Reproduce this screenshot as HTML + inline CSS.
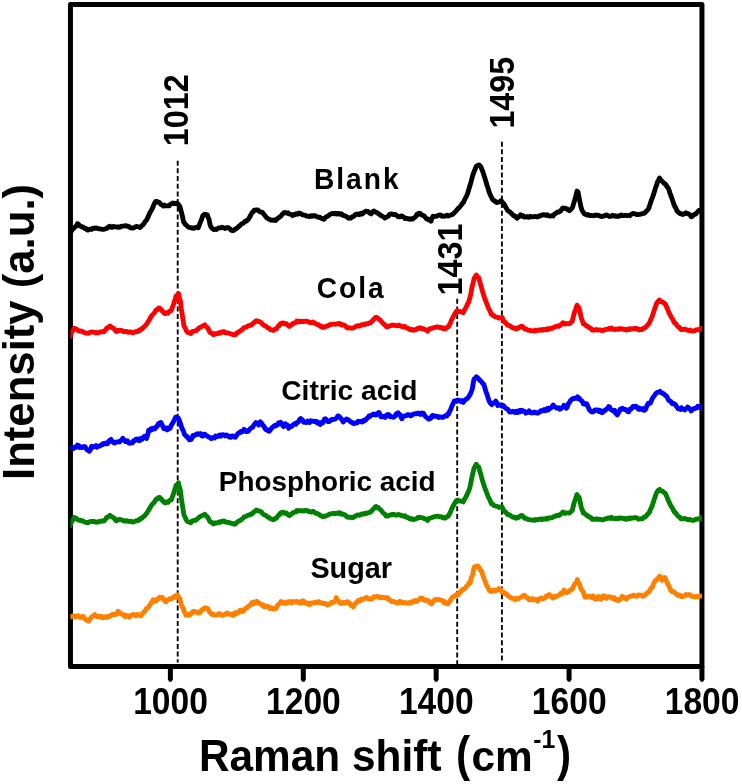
<!DOCTYPE html>
<html lang="en"><head><meta charset="utf-8"><title>Raman spectra</title>
<style>
html,body{margin:0;padding:0;background:#fff;}
body{width:742px;height:784px;overflow:hidden;}
svg{display:block;will-change:transform;}
text{font-family:"Liberation Sans",sans-serif;font-weight:bold;fill:#000;}
.c{fill:none;stroke-width:4.85;stroke-linejoin:round;stroke-linecap:butt;}
.d{fill:none;stroke:#000;stroke-width:1.85;stroke-dasharray:5 2.67;}
</style></head><body>
<svg width="742" height="784" viewBox="0 0 742 784">
<rect x="0" y="0" width="742" height="784" fill="#fff"/>

<rect x="70.45" y="4.4" width="631.5" height="662.0" fill="none" stroke="#000" stroke-width="5" stroke-linejoin="round"/>
<line class="d" x1="177.7" y1="160.7" x2="177.7" y2="662.4"/>
<line class="d" style="stroke-dasharray:5 2.69" x1="457.2" y1="298.7" x2="457.2" y2="664"/>
<line class="d" x1="501.9" y1="141.7" x2="501.9" y2="661"/>
<clipPath id="cp"><rect x="70.45" y="0" width="631.5" height="784"/></clipPath><g clip-path="url(#cp)">
<polyline class="c" stroke="#000000" points="69.5,232.6 70.53,232.25 71.57,231.02 72.6,229.33 73.58,228.51 74.56,227.38 75.54,226.53 76.52,225.6 77.5,223.75 78.58,224.32 79.66,225.85 80.74,226.05 81.82,227.05 82.9,226.85 83.92,227.81 84.93,228.58 85.95,228.5 86.97,229.76 87.98,230.17 89.0,229.68 89.9,229.25 90.8,229.4 91.7,229.41 92.6,228.37 93.7,228.19 94.8,228.41 95.9,227.98 97.0,228.19 98.06,228.65 99.12,228.94 100.18,228.87 101.24,229.08 102.3,229.29 103.4,229.42 104.5,229.1 105.6,228.67 106.67,228.64 107.73,227.4 108.8,226.56 109.87,226.25 110.93,227.34 112.0,227.4 113.1,226.45 114.2,226.55 115.3,226.84 116.38,226.93 117.45,227.28 118.52,226.81 119.6,227.36 120.68,226.85 121.76,226.1 122.84,226.08 123.92,226.06 125.0,225.68 126.08,225.73 127.15,226.25 128.23,226.06 129.3,226.72 130.37,227.83 131.43,227.91 132.5,228.14 133.6,227.85 134.7,227.32 135.8,226.59 136.85,226.46 137.9,226.73 138.95,227.01 140.0,227.51 141.0,226.42 142.0,225.48 143.0,224.79 144.0,223.48 145.03,221.67 146.05,220.57 147.07,219.06 148.1,216.8 149.1,214.56 150.1,212.29 151.1,210.63 152.1,209.13 153.07,206.73 154.03,204.31 155.0,202.5 155.8,201.41 156.6,201.32 157.8,202.2 159.0,202.19 160.2,203.51 161.4,204.75 162.4,205.3 163.4,206.0 164.35,204.96 165.3,205.81 166.25,205.85 167.2,205.92 168.15,205.76 169.1,205.84 170.1,204.62 171.1,203.77 172.07,203.49 173.03,202.95 174.0,203.71 175.0,203.53 176.0,203.27 177.0,203.76 178.0,203.88 179.0,205.29 180.0,206.83 181.0,210.69 182.0,214.44 182.85,218.42 183.7,222.25 184.5,223.03 185.3,224.5 186.37,225.11 187.43,226.23 188.5,227.2 189.5,227.43 190.5,227.73 191.5,228.05 192.5,227.73 193.53,228.33 194.55,228.09 195.57,227.39 196.6,227.27 197.45,227.12 198.3,227.78 199.3,224.87 200.3,222.37 201.45,219.69 202.6,216.13 203.5,215.03 204.4,214.33 205.37,214.83 206.33,214.53 207.3,214.75 208.15,217.38 209.0,219.25 210.2,225.3 211.0,226.92 211.8,227.88 212.7,228.81 213.6,229.38 214.5,229.66 215.57,229.07 216.63,229.44 217.7,228.51 218.77,227.81 219.83,227.88 220.9,227.75 222.0,227.24 223.1,227.6 224.2,228.11 225.27,228.47 226.35,227.58 227.43,227.9 228.5,227.6 229.25,228.35 230.0,228.89 231.07,230.22 232.13,230.53 233.2,230.72 234.3,229.66 235.4,229.4 236.5,228.38 237.57,227.68 238.65,226.5 239.73,225.94 240.8,224.41 241.87,223.71 242.93,223.48 244.0,222.41 245.1,221.29 246.2,221.39 247.3,220.29 248.37,219.35 249.43,217.5 250.5,215.51 251.43,213.89 252.37,212.19 253.3,211.72 254.17,210.19 255.03,210.45 255.9,210.01 256.97,210.01 258.03,210.01 259.1,211.2 260.17,211.82 261.23,212.02 262.3,212.31 263.4,213.63 264.5,215.06 265.6,216.38 266.67,217.82 267.73,218.49 268.8,219.16 269.87,219.33 270.93,220.22 272.0,220.08 273.1,220.23 274.2,219.97 275.3,220.51 276.37,219.97 277.43,218.44 278.5,218.07 279.6,216.91 280.7,216.34 281.8,214.81 282.87,213.59 283.93,212.72 285.0,212.49 286.07,212.9 287.13,213.24 288.2,212.83 289.27,213.95 290.35,214.26 291.43,214.56 292.5,215.63 293.57,214.56 294.65,214.85 295.73,213.89 296.8,213.74 297.9,214.19 299.0,213.05 300.1,213.29 301.17,213.81 302.23,214.78 303.3,214.95 304.38,215.15 305.45,215.32 306.53,216.18 307.6,216.11 308.68,216.55 309.75,216.53 310.82,215.75 311.9,216.26 313.0,215.76 314.1,215.69 315.2,215.73 316.3,216.6 317.38,216.89 318.45,217.31 319.53,217.15 320.6,217.83 321.67,218.51 322.73,218.57 323.8,219.28 324.87,218.06 325.93,217.07 327.0,216.44 328.1,216.2 329.2,214.9 330.3,214.37 331.37,213.69 332.43,213.32 333.5,213.72 334.57,213.93 335.63,213.2 336.7,214.09 337.8,213.45 338.9,213.48 340.0,214.32 341.07,213.79 342.13,214.41 343.2,215.64 344.27,215.68 345.33,216.01 346.4,216.73 347.5,217.25 348.6,218.24 349.7,217.96 350.77,218.12 351.83,216.8 352.9,216.72 353.97,216.08 355.03,214.84 356.1,214.23 357.2,214.47 358.3,214.06 359.4,214.67 360.47,213.63 361.53,213.23 362.6,213.93 363.67,212.48 364.73,212.11 365.8,211.24 366.9,211.43 368.0,211.49 369.1,212.75 370.15,213.37 371.2,213.92 372.13,212.11 373.07,211.35 374.0,210.93 374.87,211.83 375.73,211.85 376.6,212.51 377.7,213.34 378.8,213.77 379.9,214.95 380.97,215.42 382.03,216.09 383.1,216.64 383.97,217.06 384.83,218.03 385.7,217.64 386.63,217.17 387.57,216.46 388.5,216.08 389.25,214.83 390.0,214.09 391.07,214.03 392.15,213.95 393.23,214.46 394.3,214.43 395.38,214.48 396.45,215.22 397.53,216.15 398.6,216.89 399.7,216.77 400.8,216.25 401.9,215.87 402.97,216.85 404.03,217.4 405.1,218.66 406.18,218.23 407.25,218.33 408.32,219.05 409.4,218.77 410.47,219.22 411.55,218.79 412.62,219.1 413.7,218.22 414.8,217.3 415.9,216.32 417.0,214.23 418.07,214.63 419.13,213.21 420.2,213.3 421.27,214.47 422.33,215.22 423.4,215.6 424.5,216.3 425.6,217.68 426.7,219.06 427.77,218.9 428.85,220.08 429.93,219.78 431.0,221.15 432.05,218.03 433.1,216.2 434.2,216.64 435.3,216.33 436.4,216.25 437.47,215.81 438.53,215.34 439.6,214.91 440.7,215.2 441.8,216.33 442.88,215.87 443.95,216.34 445.03,216.13 446.1,215.53 447.18,215.15 448.25,215.96 449.32,215.61 450.4,215.15 451.47,214.65 452.53,214.49 453.6,213.55 454.67,212.42 455.73,211.29 456.8,210.13 457.9,208.58 459.0,207.96 460.1,206.41 461.17,205.34 462.23,203.55 463.3,202.64 464.37,200.27 465.43,198.12 466.5,196.14 467.6,193.51 468.7,189.79 469.8,185.99 470.9,182.42 471.83,178.77 472.77,175.29 473.7,172.63 474.57,170.47 475.43,168.5 476.3,166.13 477.35,165.66 478.4,164.95 479.5,165.16 480.6,166.19 481.65,168.88 482.7,171.3 483.8,174.74 484.9,178.13 486.0,181.75 487.05,185.51 488.1,188.55 489.2,192.21 490.3,194.8 491.35,196.78 492.4,199.21 493.5,200.48 494.6,200.56 495.7,202.09 496.75,202.52 497.8,202.19 498.9,202.05 500.0,201.65 501.1,200.56 502.15,201.97 503.2,203.06 504.3,204.55 505.4,206.49 506.45,208.44 507.5,210.41 508.6,211.08 509.7,211.74 510.8,212.93 511.87,213.76 512.93,215.01 514.0,216.08 515.07,216.01 516.13,217.4 517.2,218.14 518.3,216.87 519.4,216.18 520.5,214.93 521.58,215.93 522.65,215.54 523.72,216.95 524.8,217.14 525.88,216.94 526.95,216.54 528.02,217.25 529.1,217.31 530.17,216.3 531.25,216.9 532.33,216.88 533.4,216.58 534.48,216.62 535.55,216.34 536.62,216.87 537.7,216.92 538.78,216.0 539.85,216.18 540.92,215.5 542.0,214.93 543.08,214.96 544.15,214.59 545.22,215.3 546.3,215.21 547.22,214.71 548.15,215.66 549.08,215.87 550.0,215.98 551.07,215.98 552.13,215.72 553.2,216.07 554.3,214.32 555.4,213.59 556.5,212.93 557.57,211.97 558.63,212.14 559.7,211.62 560.77,210.77 561.83,208.98 562.9,207.96 564.0,208.41 565.1,208.28 566.2,208.79 567.27,208.99 568.33,210.04 569.4,210.72 570.47,209.64 571.53,208.72 572.6,207.15 573.7,203.34 574.8,199.99 575.9,195.6 577.0,191.08 578.0,191.87 578.9,196.66 579.8,201.37 580.85,206.44 581.9,209.98 582.77,211.74 583.63,212.58 584.5,214.11 585.58,214.31 586.65,214.97 587.72,214.48 588.8,215.3 589.88,215.5 590.95,215.34 592.02,215.68 593.1,215.64 594.17,215.71 595.25,215.0 596.33,215.36 597.4,215.24 598.5,215.36 599.6,215.74 600.7,216.44 601.8,216.6 602.88,216.12 603.95,216.01 605.02,215.44 606.1,214.97 607.17,215.12 608.23,215.79 609.3,216.51 610.37,216.45 611.43,216.03 612.5,215.31 613.58,216.06 614.65,215.71 615.72,216.34 616.8,216.1 617.9,216.24 619.0,216.29 620.1,215.31 621.2,214.94 622.28,215.56 623.35,215.58 624.42,215.52 625.5,215.25 626.58,215.55 627.65,215.47 628.72,215.32 629.8,215.7 630.87,214.63 631.93,214.02 633.0,213.44 634.1,213.71 635.2,213.86 636.3,214.57 637.38,214.45 638.45,214.46 639.52,214.44 640.6,214.2 641.67,213.99 642.75,213.55 643.83,213.43 644.9,212.81 645.88,211.81 646.85,210.64 647.82,209.62 648.8,208.32 650.05,204.28 651.3,200.44 652.4,197.7 653.5,194.64 654.6,191.05 655.53,187.72 656.47,185.57 657.4,182.28 658.45,180.36 659.5,178.0 660.37,179.44 661.23,180.64 662.1,181.21 663.2,182.21 664.3,183.61 665.4,183.97 666.33,185.57 667.27,187.12 668.2,187.91 669.07,190.13 669.93,192.97 670.8,195.42 672.05,198.73 673.3,202.48 674.23,205.39 675.17,206.88 676.1,208.83 677.03,210.9 677.97,211.79 678.9,212.86 679.83,213.34 680.75,213.91 681.67,213.61 682.6,214.47 683.67,214.1 684.73,213.78 685.8,212.75 686.9,213.55 688.0,213.57 689.1,214.37 690.15,214.99 691.2,216.72 692.3,216.24 693.4,215.08 694.5,214.39 695.57,214.14 696.63,212.79 697.7,211.88 698.8,210.43 699.9,210.84 700.93,210.07 701.97,209.26 703.0,209.0"/>
<polyline class="c" stroke="#ff0000" points="69.3,338.0 70.2,336.19 71.1,333.41 72.17,331.44 73.23,330.27 74.3,328.16 75.38,328.79 76.45,329.09 77.52,330.12 78.6,330.82 79.67,331.06 80.75,330.87 81.83,331.45 82.9,331.68 83.98,332.35 85.06,332.94 86.14,333.19 87.22,333.05 88.3,333.24 89.38,332.77 90.45,332.24 91.52,331.96 92.6,332.16 93.68,332.12 94.76,332.31 95.84,332.99 96.92,332.71 98.0,332.87 99.08,332.31 100.16,331.88 101.24,332.01 102.32,331.6 103.4,331.81 104.5,331.25 105.6,329.79 106.7,328.15 107.77,328.0 108.83,326.96 109.9,325.96 110.97,326.88 112.03,327.46 113.1,328.22 114.2,328.81 115.3,330.56 116.4,331.61 117.47,330.36 118.53,330.65 119.6,330.24 120.67,330.28 121.75,330.68 122.83,330.96 123.9,331.77 124.98,331.4 126.06,331.86 127.14,331.44 128.22,332.12 129.3,332.24 130.38,331.91 131.45,332.17 132.53,332.71 133.6,332.65 134.68,332.11 135.75,331.54 136.82,331.38 137.9,331.52 138.97,330.23 140.05,330.35 141.12,328.94 142.2,328.95 143.27,327.22 144.35,326.85 145.43,325.5 146.5,324.2 147.6,322.44 148.7,320.82 149.8,318.97 150.9,316.89 151.97,315.33 153.05,314.21 154.12,313.23 155.2,311.44 156.1,309.91 157.0,309.8 157.9,308.77 158.8,308.05 159.73,308.13 160.67,309.6 161.6,309.71 162.47,311.43 163.33,312.08 164.2,313.1 165.17,313.66 166.15,312.67 167.12,312.97 168.1,313.19 169.17,311.65 170.23,310.75 171.3,310.62 172.27,307.58 173.23,305.37 174.2,302.09 175.15,299.25 176.1,295.84 177.3,295.29 178.5,293.54 179.45,298.3 180.4,301.08 181.25,308.3 182.1,313.97 183.0,319.63 183.9,325.64 185.15,327.92 186.4,330.95 187.5,332.24 188.6,332.64 189.7,333.0 190.77,333.47 191.83,331.98 192.9,331.29 193.97,331.18 195.05,331.03 196.12,330.72 197.2,329.57 198.27,328.92 199.35,327.68 200.43,327.24 201.5,326.69 202.6,326.06 203.7,325.64 204.8,324.88 205.73,326.1 206.67,327.03 207.6,327.87 208.47,329.23 209.33,331.34 210.2,332.6 211.27,332.86 212.33,333.74 213.4,334.71 214.47,333.69 215.55,333.99 216.62,333.58 217.7,333.52 218.78,332.77 219.86,333.33 220.94,332.22 222.02,332.26 223.1,331.71 224.18,331.69 225.25,332.71 226.32,332.68 227.4,333.01 228.27,333.12 229.13,333.39 230.0,333.46 231.08,334.13 232.16,334.07 233.24,334.67 234.32,334.7 235.4,334.84 236.47,333.26 237.55,332.74 238.62,331.78 239.7,331.4 240.77,330.59 241.85,329.93 242.93,328.98 244.0,327.63 245.07,327.44 246.15,327.18 247.23,326.23 248.3,325.89 249.38,325.75 250.45,324.87 251.53,325.0 252.6,323.91 253.53,322.96 254.45,322.25 255.38,321.5 256.3,320.69 257.27,321.27 258.25,321.46 259.23,321.54 260.2,322.16 261.27,322.51 262.35,324.1 263.43,324.98 264.5,325.55 265.57,326.03 266.65,326.91 267.73,327.79 268.8,328.01 269.77,328.96 270.75,329.63 271.73,329.8 272.7,330.25 273.62,330.48 274.55,329.45 275.47,329.07 276.4,328.96 277.3,327.55 278.2,326.12 279.1,325.81 280.0,324.06 280.88,323.4 281.75,323.85 282.62,322.94 283.5,322.89 284.5,323.84 285.5,324.02 286.5,323.67 287.43,324.88 288.37,325.57 289.3,326.38 290.37,325.35 291.43,325.03 292.5,323.73 293.57,323.31 294.65,322.76 295.73,322.73 296.8,321.13 297.9,321.83 299.0,321.16 300.1,321.53 301.2,321.28 302.27,321.41 303.35,321.78 304.43,321.43 305.5,321.18 306.57,321.28 307.65,321.34 308.73,322.29 309.8,322.16 310.88,322.68 311.95,322.56 313.03,322.0 314.1,322.88 315.18,323.55 316.25,324.05 317.32,324.35 318.4,324.74 319.47,325.48 320.55,326.48 321.62,326.52 322.7,327.43 323.77,326.95 324.85,327.05 325.93,326.46 327.0,326.18 328.07,325.79 329.15,324.93 330.23,324.58 331.3,324.59 332.4,324.14 333.5,324.12 334.6,324.2 335.7,324.26 336.77,323.89 337.85,324.15 338.93,323.36 340.0,323.64 341.07,324.82 342.15,324.36 343.23,325.13 344.3,325.22 345.38,325.79 346.45,327.24 347.53,327.89 348.6,328.06 349.67,327.69 350.73,328.08 351.8,328.2 352.88,328.16 353.95,327.65 355.03,326.86 356.1,326.43 357.2,325.7 358.3,325.89 359.4,326.07 360.5,325.58 361.57,324.58 362.65,324.77 363.73,324.71 364.8,323.93 365.88,324.36 366.95,323.61 368.03,323.6 369.1,322.99 370.17,322.94 371.23,322.01 372.3,321.08 373.27,319.63 374.25,318.99 375.23,317.56 376.2,317.2 377.12,318.22 378.05,318.15 378.97,319.21 379.9,319.88 380.97,320.86 382.03,322.26 383.1,323.58 384.08,324.3 385.05,325.02 386.02,326.53 387.0,326.81 388.0,326.7 389.0,326.04 390.0,325.59 391.08,325.69 392.16,325.0 393.24,325.43 394.32,325.19 395.4,325.48 396.48,325.92 397.56,325.65 398.64,325.06 399.72,325.66 400.8,326.03 401.88,326.52 402.96,326.57 404.04,327.05 405.12,326.47 406.2,327.79 407.27,328.08 408.35,328.47 409.43,329.32 410.5,329.82 411.57,329.14 412.65,330.1 413.73,330.22 414.8,329.77 415.88,329.82 416.95,329.09 418.03,328.11 419.1,328.23 420.18,327.78 421.25,328.57 422.32,328.65 423.4,328.73 424.47,329.5 425.55,329.81 426.62,329.95 427.7,331.21 428.77,329.53 429.85,328.75 430.93,328.58 432.0,328.27 433.1,327.8 434.2,327.63 435.3,327.06 436.4,326.99 437.47,326.89 438.55,327.09 439.62,327.63 440.7,327.38 441.77,327.61 442.85,328.53 443.93,328.07 445.0,328.88 446.07,328.31 447.13,327.29 448.2,326.99 449.3,324.98 450.4,322.93 451.5,320.0 452.57,317.86 453.63,315.94 454.7,313.86 455.57,312.61 456.43,311.23 457.3,310.76 458.23,311.58 459.17,311.29 460.1,311.84 461.17,311.8 462.23,312.0 463.3,312.61 464.37,310.06 465.43,308.5 466.5,306.38 467.6,303.91 468.7,301.79 469.8,298.33 470.85,293.76 471.9,287.78 473.0,283.31 474.1,278.63 475.2,276.87 476.3,274.98 477.55,277.07 478.8,277.85 479.73,281.68 480.67,284.65 481.6,288.03 482.7,291.99 483.8,295.53 484.9,298.94 485.97,301.46 487.03,304.24 488.1,307.35 489.17,309.27 490.23,311.49 491.3,314.4 492.4,314.34 493.5,315.98 494.6,316.37 495.68,316.78 496.75,317.15 497.82,317.31 498.9,318.15 499.97,317.7 501.03,317.87 502.1,317.57 503.2,320.08 504.3,321.96 505.37,322.5 506.43,323.79 507.5,325.17 508.57,325.21 509.65,325.66 510.73,326.51 511.8,327.16 512.88,327.97 513.95,327.91 515.02,328.17 516.1,328.92 517.2,327.94 518.3,328.21 519.4,327.65 520.45,326.54 521.5,326.16 522.6,326.56 523.7,328.08 524.8,329.07 525.88,328.98 526.95,329.56 528.02,330.22 529.1,330.37 530.18,330.46 531.26,330.67 532.34,330.82 533.42,330.7 534.5,331.03 535.58,330.19 536.66,330.47 537.74,330.45 538.82,330.03 539.9,329.98 540.98,329.6 542.06,330.32 543.14,329.52 544.22,329.51 545.3,329.83 546.24,328.98 547.18,329.75 548.12,328.75 549.06,328.56 550.0,328.84 551.07,328.28 552.13,328.33 553.2,327.72 554.3,327.29 555.4,326.63 556.5,326.45 557.57,325.91 558.63,326.37 559.7,325.68 560.77,324.63 561.83,324.08 562.9,322.62 564.0,323.13 565.1,324.14 566.2,323.55 567.27,323.61 568.33,323.67 569.4,323.73 570.33,323.08 571.27,322.06 572.2,321.33 573.3,316.87 574.4,312.51 575.27,310.42 576.13,307.62 577.0,305.16 578.05,307.19 579.1,308.02 580.2,312.76 581.3,318.19 582.35,320.62 583.4,323.91 584.5,323.93 585.6,325.09 586.7,326.18 587.77,326.32 588.83,327.49 589.9,328.02 590.97,328.52 592.03,329.91 593.1,329.98 594.17,329.95 595.25,329.98 596.33,329.52 597.4,329.97 598.5,329.83 599.6,329.95 600.7,330.02 601.8,330.63 602.86,330.5 603.92,330.19 604.98,329.63 606.04,329.44 607.1,329.43 608.2,328.65 609.3,328.47 610.4,329.19 611.5,327.99 612.58,329.13 613.65,329.1 614.72,329.61 615.8,328.94 616.88,329.09 617.95,329.53 619.02,328.56 620.1,328.57 621.18,328.96 622.26,328.88 623.34,328.97 624.42,329.67 625.5,329.15 626.58,330.0 627.66,329.52 628.74,328.74 629.82,329.56 630.9,328.72 631.98,328.88 633.05,328.86 634.12,328.3 635.2,328.6 636.27,328.38 637.33,328.8 638.4,329.86 639.47,329.75 640.53,329.43 641.6,329.6 642.7,329.29 643.8,327.95 644.9,327.82 646.0,326.89 647.07,325.64 648.13,324.4 649.2,323.28 650.13,320.94 651.07,318.95 652.0,316.97 652.87,314.37 653.73,311.76 654.6,308.94 655.47,306.57 656.33,304.17 657.2,302.46 658.35,300.88 659.5,300.07 660.37,301.35 661.23,301.64 662.1,301.68 663.2,302.6 664.3,303.24 665.4,304.12 666.33,306.29 667.27,308.42 668.2,311.03 669.2,313.18 670.2,315.04 671.2,317.07 672.33,318.66 673.47,320.99 674.6,323.04 675.52,323.28 676.45,324.87 677.38,325.94 678.3,326.97 679.37,327.38 680.43,329.06 681.5,329.77 682.6,329.4 683.7,329.45 684.8,329.16 685.88,329.51 686.95,330.02 688.02,330.35 689.1,330.47 690.17,330.05 691.25,330.9 692.33,331.01 693.4,331.07 694.48,330.66 695.55,329.89 696.62,329.92 697.7,329.67 698.77,329.75 699.83,329.15 700.9,328.26 701.95,329.3 703.0,329.0"/>
<polyline class="c" stroke="#0000ff" points="69.5,447.08 70.3,447.79 71.1,447.54 72.17,448.31 73.23,448.65 74.3,447.83 75.37,446.69 76.43,447.31 77.5,445.12 78.6,445.57 79.7,447.59 80.8,447.04 81.87,447.57 82.93,446.65 84.0,446.78 85.1,446.73 86.2,448.64 87.3,450.04 88.35,450.1 89.4,451.28 90.5,449.29 91.6,446.23 92.67,447.42 93.73,446.88 94.8,446.1 95.87,445.56 96.93,447.23 98.0,446.45 99.1,446.2 100.2,445.79 101.3,444.73 102.37,444.81 103.43,443.42 104.5,443.9 105.57,443.02 106.63,443.84 107.7,443.56 108.8,441.06 109.9,440.21 111.0,439.43 112.07,441.86 113.13,441.74 114.2,443.05 115.3,442.1 116.4,442.21 117.47,441.84 118.53,441.64 119.6,441.97 120.67,440.67 121.73,440.01 122.8,438.26 123.73,439.69 124.67,440.48 125.6,441.68 126.53,441.47 127.45,440.88 128.38,442.7 129.3,443.33 130.37,443.21 131.43,442.54 132.5,442.83 133.6,440.76 134.7,440.93 135.8,439.35 136.87,439.04 137.93,438.86 139.0,440.71 140.07,440.48 141.13,438.18 142.2,439.1 143.3,437.57 144.4,436.3 145.45,437.04 146.5,438.44 147.6,435.2 148.7,430.09 149.77,430.63 150.83,428.89 151.9,429.64 153.0,428.36 154.1,428.96 155.2,428.66 156.27,426.51 157.33,426.3 158.4,423.72 159.27,423.02 160.13,423.83 161.0,422.46 161.93,424.46 162.87,426.55 163.8,428.62 164.87,427.98 165.93,428.02 167.0,429.94 168.1,428.13 169.2,428.72 170.3,427.89 171.23,425.26 172.17,423.82 173.1,422.34 173.97,420.82 174.83,418.96 175.7,417.12 176.95,417.24 178.2,417.88 179.3,420.21 180.4,423.26 181.5,427.09 182.6,429.38 183.53,431.3 184.47,434.46 185.4,435.34 186.33,436.46 187.27,436.46 188.2,438.33 189.25,439.76 190.3,439.74 191.17,439.5 192.03,438.1 192.9,435.52 193.97,435.92 195.03,434.87 196.1,434.56 197.2,433.77 198.3,434.35 199.4,434.28 200.27,433.48 201.13,434.19 202.0,436.05 202.93,436.13 203.87,434.2 204.8,434.11 205.87,435.32 206.93,435.71 208.0,436.73 209.07,437.13 210.13,437.74 211.2,438.69 212.3,437.73 213.4,437.52 214.5,437.94 215.57,436.03 216.65,436.69 217.73,436.6 218.8,435.32 219.88,435.05 220.95,436.11 222.03,434.88 223.1,434.67 224.18,435.32 225.25,436.0 226.32,434.95 227.4,435.54 228.27,435.77 229.13,436.97 230.0,436.38 231.08,437.21 232.16,435.84 233.24,436.17 234.32,436.8 235.4,437.27 236.47,435.48 237.55,434.1 238.62,432.97 239.7,432.86 240.77,431.48 241.85,432.01 242.93,431.38 244.0,429.37 245.1,429.99 246.2,431.48 247.3,431.58 248.37,431.21 249.43,429.59 250.5,428.46 251.57,427.62 252.63,427.45 253.7,425.24 254.8,423.89 255.9,422.53 256.77,423.04 257.63,423.52 258.5,425.04 259.43,422.78 260.37,421.74 261.3,422.89 262.23,424.23 263.17,425.91 264.1,426.27 264.97,428.5 265.83,429.65 266.7,429.44 267.95,430.84 269.2,431.37 270.07,430.2 270.95,429.09 271.82,427.8 272.7,427.08 273.62,426.33 274.55,425.49 275.47,426.0 276.4,424.87 277.47,425.1 278.55,422.74 279.62,423.63 280.7,422.39 281.63,424.08 282.57,425.26 283.5,426.5 284.37,425.35 285.23,423.73 286.1,424.69 286.97,424.78 287.83,426.27 288.7,428.23 289.63,427.22 290.57,426.26 291.5,426.58 292.57,425.4 293.65,424.33 294.73,423.63 295.8,424.32 296.87,422.69 297.93,422.43 299.0,420.7 299.85,419.09 300.7,418.47 301.57,420.03 302.43,419.74 303.3,421.98 304.38,422.39 305.45,422.31 306.53,422.5 307.6,421.02 308.68,422.16 309.75,422.53 310.82,420.8 311.9,421.14 313.0,421.09 314.1,421.55 315.2,421.3 316.3,421.35 317.25,422.93 318.2,422.35 319.15,423.43 320.1,424.55 320.97,423.45 321.83,422.24 322.7,422.95 323.57,421.64 324.43,419.04 325.3,418.8 326.23,419.5 327.17,420.56 328.1,421.7 329.17,421.59 330.23,420.77 331.3,419.62 332.4,419.28 333.5,419.56 334.6,419.15 335.67,418.78 336.73,417.87 337.8,415.96 338.9,416.23 340.0,417.29 341.1,418.55 342.15,420.31 343.2,421.97 344.27,420.29 345.33,420.27 346.4,419.05 347.5,419.4 348.6,420.01 349.7,420.99 350.77,422.11 351.85,422.24 352.93,423.49 354.0,423.72 355.07,422.84 356.15,422.97 357.23,422.84 358.3,421.14 359.38,421.6 360.45,421.35 361.53,422.01 362.6,421.87 363.68,420.2 364.75,420.7 365.82,419.93 366.9,418.32 368.0,417.66 369.1,415.91 370.2,416.23 371.27,415.19 372.33,414.91 373.4,413.98 374.33,414.24 375.27,414.87 376.2,415.03 377.07,413.61 377.93,414.08 378.8,412.41 379.87,414.12 380.93,416.82 382.0,416.79 383.1,416.55 384.2,416.23 385.3,417.46 386.37,415.46 387.43,414.55 388.5,415.58 389.25,414.74 390.0,416.79 391.07,416.55 392.15,416.97 393.23,417.3 394.3,416.66 395.27,416.17 396.25,413.72 397.23,414.26 398.2,412.82 399.12,414.48 400.05,414.51 400.97,417.05 401.9,418.67 402.97,416.22 404.05,416.05 405.12,415.83 406.2,415.66 407.27,414.63 408.35,414.66 409.43,414.95 410.5,415.83 411.57,415.68 412.65,414.54 413.73,414.06 414.8,413.69 415.88,413.6 416.95,413.74 418.03,413.07 419.1,413.9 420.17,414.48 421.23,412.99 422.3,413.29 423.4,413.22 424.5,415.38 425.6,416.61 426.67,417.51 427.73,418.27 428.8,419.27 429.87,418.65 430.93,418.23 432.0,415.8 433.1,415.39 434.2,416.4 435.3,416.43 436.37,416.13 437.43,416.49 438.5,417.54 439.6,416.71 440.7,417.1 441.8,417.2 442.87,417.54 443.93,416.56 445.0,415.96 445.93,416.13 446.85,415.91 447.77,413.84 448.7,413.91 449.63,411.16 450.57,409.87 451.5,407.17 452.43,404.87 453.37,403.1 454.3,401.05 455.55,401.21 456.8,400.27 457.9,400.01 459.0,400.55 460.1,400.64 461.17,401.68 462.23,400.55 463.3,402.38 464.37,400.49 465.43,399.86 466.5,398.74 467.43,398.39 468.35,397.29 469.27,395.69 470.2,394.46 471.3,391.69 472.4,388.71 473.25,382.95 474.1,378.77 475.2,378.47 476.3,376.73 477.55,377.56 478.8,378.87 479.73,380.34 480.67,380.75 481.6,381.82 482.7,383.56 483.8,384.28 484.9,387.93 486.0,391.82 487.05,394.37 488.1,398.11 489.03,400.58 489.97,402.83 490.9,403.71 491.77,404.56 492.63,403.09 493.5,402.95 494.6,403.01 495.7,401.17 496.75,402.64 497.8,405.57 498.9,404.62 500.0,404.88 501.1,405.46 502.17,406.22 503.23,405.45 504.3,406.67 505.37,407.74 506.43,408.71 507.5,409.02 508.6,410.5 509.7,411.98 510.8,411.58 511.88,411.99 512.95,411.24 514.02,411.65 515.1,412.53 516.17,411.2 517.25,412.52 518.33,412.34 519.4,410.49 520.47,411.75 521.53,410.18 522.6,410.54 523.67,411.45 524.73,411.46 525.8,413.15 526.9,412.61 528.0,412.41 529.1,410.83 530.17,412.18 531.25,412.97 532.33,412.77 533.4,412.87 534.48,412.03 535.55,412.79 536.62,412.5 537.7,413.24 538.78,412.63 539.85,411.88 540.92,410.59 542.0,410.99 543.08,410.69 544.15,409.51 545.22,410.65 546.3,409.91 547.22,408.65 548.15,410.06 549.08,408.28 550.0,408.46 551.07,407.94 552.13,406.39 553.2,405.01 554.3,406.36 555.4,407.15 556.5,408.02 557.57,407.89 558.63,407.8 559.7,409.23 560.8,408.76 561.9,407.79 562.95,407.13 564.0,405.32 565.1,406.53 566.2,408.17 567.25,407.2 568.3,403.58 569.4,402.71 570.5,400.39 571.6,399.64 572.67,398.67 573.73,398.5 574.8,398.51 575.73,398.22 576.67,398.11 577.6,396.71 578.47,398.76 579.33,398.36 580.2,399.74 581.27,400.47 582.33,401.56 583.4,403.96 584.5,404.22 585.6,403.5 586.7,403.88 587.77,406.13 588.83,408.59 589.9,410.53 590.83,411.33 591.77,411.95 592.7,411.99 593.7,411.56 594.7,410.22 595.7,409.96 596.58,410.31 597.45,409.85 598.33,410.23 599.2,411.56 600.07,410.39 600.93,412.27 601.8,412.78 602.87,412.4 603.93,410.77 605.0,410.61 605.92,409.59 606.85,408.62 607.78,408.23 608.7,406.57 609.63,407.03 610.57,409.39 611.5,409.87 612.57,410.6 613.63,411.35 614.7,410.4 615.57,413.11 616.43,414.06 617.3,414.88 618.23,413.28 619.17,411.49 620.1,409.29 621.17,409.59 622.23,408.24 623.3,408.8 624.37,409.46 625.43,409.42 626.5,410.03 627.6,411.37 628.7,411.78 629.77,409.17 630.83,409.38 631.9,407.95 633.0,406.47 634.1,406.75 635.2,406.17 636.27,406.42 637.33,407.91 638.4,409.26 639.47,408.18 640.53,409.41 641.6,409.19 642.7,408.44 643.8,410.25 644.9,410.1 645.77,408.82 646.63,406.47 647.5,404.58 648.43,403.19 649.37,403.51 650.3,403.16 651.37,401.02 652.43,398.17 653.5,396.81 654.57,395.4 655.63,393.78 656.7,392.79 657.8,392.29 658.9,391.97 660.0,391.32 661.07,392.43 662.13,393.27 663.2,393.37 664.27,394.14 665.33,395.6 666.4,395.91 667.5,397.9 668.6,400.15 669.7,401.1 670.77,401.36 671.83,403.5 672.9,403.84 673.77,403.5 674.63,403.88 675.5,404.56 676.43,406.49 677.37,407.55 678.3,408.91 679.37,408.82 680.43,409.47 681.5,407.69 682.6,409.02 683.7,409.19 684.8,409.92 685.73,408.91 686.67,408.44 687.6,407.04 688.5,407.58 689.4,408.57 690.3,409.51 691.2,410.98 692.3,409.39 693.4,408.58 694.5,408.7 695.57,408.05 696.63,408.07 697.7,406.2 698.77,407.11 699.83,407.29 700.9,406.75 701.95,408.33 703.0,407.1"/>
<polyline class="c" stroke="#008000" points="69.3,527.3 70.2,525.49 71.1,522.71 72.17,520.74 73.23,519.57 74.3,517.46 75.38,518.09 76.45,518.39 77.52,519.42 78.6,520.12 79.67,520.36 80.75,520.17 81.83,520.75 82.9,520.98 83.98,521.65 85.06,522.24 86.14,522.49 87.22,522.35 88.3,522.54 89.38,522.07 90.45,521.54 91.52,521.26 92.6,521.46 93.68,521.42 94.76,521.61 95.84,522.29 96.92,522.01 98.0,522.17 99.08,521.61 100.16,521.18 101.24,521.31 102.32,520.9 103.4,521.11 104.5,520.55 105.6,519.09 106.7,517.45 107.77,517.3 108.83,516.26 109.9,515.26 110.97,516.18 112.03,516.76 113.1,517.52 114.2,518.11 115.3,519.86 116.4,520.91 117.47,519.66 118.53,519.95 119.6,519.54 120.67,519.58 121.75,519.98 122.83,520.26 123.9,521.07 124.98,520.7 126.06,521.16 127.14,520.74 128.22,521.42 129.3,521.54 130.38,521.21 131.45,521.47 132.53,522.01 133.6,521.95 134.68,521.41 135.75,520.84 136.82,520.68 137.9,520.82 138.97,519.53 140.05,519.65 141.12,518.24 142.2,518.25 143.27,516.52 144.35,516.15 145.43,514.8 146.5,513.5 147.6,511.74 148.7,510.12 149.8,508.27 150.9,506.19 151.97,504.63 153.05,503.51 154.12,502.53 155.2,500.74 156.1,499.21 157.0,499.1 157.9,498.07 158.8,497.35 159.73,497.43 160.67,498.9 161.6,499.01 162.47,500.73 163.33,501.38 164.2,502.4 165.17,502.96 166.15,501.97 167.12,502.27 168.1,502.49 169.17,500.95 170.23,500.05 171.3,499.92 172.27,496.88 173.23,494.67 174.2,491.39 175.15,488.55 176.1,485.14 177.3,484.59 178.5,482.84 179.45,487.6 180.4,490.38 181.25,497.6 182.1,503.27 183.0,508.93 183.9,514.94 185.15,517.22 186.4,520.25 187.5,521.54 188.6,521.94 189.7,522.3 190.77,522.77 191.83,521.28 192.9,520.59 193.97,520.48 195.05,520.33 196.12,520.02 197.2,518.87 198.27,518.22 199.35,516.98 200.43,516.54 201.5,515.99 202.6,515.36 203.7,514.94 204.8,514.18 205.73,515.4 206.67,516.33 207.6,517.17 208.47,518.53 209.33,520.64 210.2,521.9 211.27,522.16 212.33,523.04 213.4,524.01 214.47,522.99 215.55,523.29 216.62,522.88 217.7,522.82 218.78,522.07 219.86,522.63 220.94,521.52 222.02,521.56 223.1,521.01 224.18,520.99 225.25,522.01 226.32,521.98 227.4,522.31 228.27,522.42 229.13,522.69 230.0,522.76 231.08,523.43 232.16,523.37 233.24,523.97 234.32,524.0 235.4,524.14 236.47,522.56 237.55,522.04 238.62,521.08 239.7,520.7 240.77,519.89 241.85,519.23 242.93,518.28 244.0,516.93 245.07,516.74 246.15,516.48 247.23,515.53 248.3,515.19 249.38,515.05 250.45,514.17 251.53,514.3 252.6,513.21 253.53,512.26 254.45,511.55 255.38,510.8 256.3,509.99 257.27,510.57 258.25,510.76 259.23,510.84 260.2,511.46 261.27,511.81 262.35,513.4 263.43,514.28 264.5,514.85 265.57,515.33 266.65,516.21 267.73,517.09 268.8,517.31 269.77,518.26 270.75,518.93 271.73,519.1 272.7,519.55 273.62,519.78 274.55,518.75 275.47,518.37 276.4,518.26 277.3,516.85 278.2,515.42 279.1,515.11 280.0,513.36 280.88,512.7 281.75,513.15 282.62,512.24 283.5,512.19 284.5,513.14 285.5,513.32 286.5,512.97 287.43,514.18 288.37,514.87 289.3,515.68 290.37,514.65 291.43,514.33 292.5,513.03 293.57,512.61 294.65,512.06 295.73,512.03 296.8,510.43 297.9,511.13 299.0,510.46 300.1,510.83 301.2,510.58 302.27,510.71 303.35,511.08 304.43,510.73 305.5,510.48 306.57,510.58 307.65,510.64 308.73,511.59 309.8,511.46 310.88,511.98 311.95,511.86 313.03,511.3 314.1,512.18 315.18,512.85 316.25,513.35 317.32,513.65 318.4,514.04 319.47,514.78 320.55,515.78 321.62,515.82 322.7,516.73 323.77,516.25 324.85,516.35 325.93,515.76 327.0,515.48 328.07,515.09 329.15,514.23 330.23,513.88 331.3,513.89 332.4,513.44 333.5,513.42 334.6,513.5 335.7,513.56 336.77,513.19 337.85,513.45 338.93,512.66 340.0,512.94 341.07,514.12 342.15,513.66 343.23,514.43 344.3,514.52 345.38,515.09 346.45,516.54 347.53,517.19 348.6,517.36 349.67,516.99 350.73,517.38 351.8,517.5 352.88,517.46 353.95,516.95 355.03,516.16 356.1,515.73 357.2,515.0 358.3,515.19 359.4,515.37 360.5,514.88 361.57,513.88 362.65,514.07 363.73,514.01 364.8,513.23 365.88,513.66 366.95,512.91 368.03,512.9 369.1,512.29 370.17,512.24 371.23,511.31 372.3,510.38 373.27,508.93 374.25,508.29 375.23,506.86 376.2,506.5 377.12,507.52 378.05,507.45 378.97,508.51 379.9,509.18 380.97,510.16 382.03,511.56 383.1,512.88 384.08,513.6 385.05,514.32 386.02,515.83 387.0,516.11 388.0,516.0 389.0,515.34 390.0,514.89 391.08,514.99 392.16,514.3 393.24,514.73 394.32,514.49 395.4,514.78 396.48,515.22 397.56,514.95 398.64,514.36 399.72,514.96 400.8,515.33 401.88,515.82 402.96,515.87 404.04,516.35 405.12,515.77 406.2,517.09 407.27,517.38 408.35,517.77 409.43,518.62 410.5,519.12 411.57,518.44 412.65,519.4 413.73,519.52 414.8,519.07 415.88,519.12 416.95,518.39 418.03,517.41 419.1,517.53 420.18,517.08 421.25,517.87 422.32,517.95 423.4,518.03 424.47,518.8 425.55,519.11 426.62,519.25 427.7,520.51 428.77,518.83 429.85,518.05 430.93,517.88 432.0,517.57 433.1,517.1 434.2,516.93 435.3,516.36 436.4,516.29 437.47,516.19 438.55,516.39 439.62,516.93 440.7,516.68 441.77,516.91 442.85,517.83 443.93,517.37 445.0,518.18 446.07,517.61 447.13,516.59 448.2,516.29 449.3,514.28 450.4,512.23 451.5,509.3 452.57,507.16 453.63,505.24 454.7,503.16 455.57,501.91 456.43,500.53 457.3,500.06 458.23,500.88 459.17,500.59 460.1,501.14 461.17,501.1 462.23,501.3 463.3,501.91 464.37,499.36 465.43,497.8 466.5,495.68 467.6,493.21 468.7,491.09 469.8,487.63 470.85,483.06 471.9,477.08 473.0,472.61 474.1,467.93 475.2,466.17 476.3,464.28 477.55,466.37 478.8,467.15 479.73,470.98 480.67,473.95 481.6,477.33 482.7,481.29 483.8,484.83 484.9,488.24 485.97,490.76 487.03,493.54 488.1,496.65 489.17,498.57 490.23,500.79 491.3,503.7 492.4,503.64 493.5,505.28 494.6,505.67 495.68,506.08 496.75,506.45 497.82,506.61 498.9,507.45 499.97,507.0 501.03,507.17 502.1,506.87 503.2,509.38 504.3,511.26 505.37,511.8 506.43,513.09 507.5,514.47 508.57,514.51 509.65,514.96 510.73,515.81 511.8,516.46 512.88,517.27 513.95,517.21 515.02,517.47 516.1,518.22 517.2,517.24 518.3,517.51 519.4,516.95 520.45,515.84 521.5,515.46 522.6,515.86 523.7,517.38 524.8,518.37 525.88,518.28 526.95,518.86 528.02,519.52 529.1,519.67 530.18,519.76 531.26,519.97 532.34,520.12 533.42,520.0 534.5,520.33 535.58,519.49 536.66,519.77 537.74,519.75 538.82,519.33 539.9,519.28 540.98,518.9 542.06,519.62 543.14,518.82 544.22,518.81 545.3,519.13 546.24,518.28 547.18,519.05 548.12,518.05 549.06,517.86 550.0,518.14 551.07,517.58 552.13,517.63 553.2,517.02 554.3,516.59 555.4,515.93 556.5,515.75 557.57,515.21 558.63,515.67 559.7,514.98 560.77,513.93 561.83,513.38 562.9,511.92 564.0,512.43 565.1,513.44 566.2,512.85 567.27,512.91 568.33,512.97 569.4,513.03 570.33,512.38 571.27,511.36 572.2,510.63 573.3,506.17 574.4,501.81 575.27,499.72 576.13,496.92 577.0,494.46 578.05,496.49 579.1,497.32 580.2,502.06 581.3,507.49 582.35,509.92 583.4,513.21 584.5,513.23 585.6,514.39 586.7,515.48 587.77,515.62 588.83,516.79 589.9,517.32 590.97,517.82 592.03,519.21 593.1,519.28 594.17,519.25 595.25,519.28 596.33,518.82 597.4,519.27 598.5,519.13 599.6,519.25 600.7,519.32 601.8,519.93 602.86,519.8 603.92,519.49 604.98,518.93 606.04,518.74 607.1,518.73 608.2,517.95 609.3,517.77 610.4,518.49 611.5,517.29 612.58,518.43 613.65,518.4 614.72,518.91 615.8,518.24 616.88,518.39 617.95,518.83 619.02,517.86 620.1,517.87 621.18,518.26 622.26,518.18 623.34,518.27 624.42,518.97 625.5,518.45 626.58,519.3 627.66,518.82 628.74,518.04 629.82,518.86 630.9,518.02 631.98,518.18 633.05,518.16 634.12,517.6 635.2,517.9 636.27,517.68 637.33,518.1 638.4,519.16 639.47,519.05 640.53,518.73 641.6,518.9 642.7,518.59 643.8,517.25 644.9,517.12 646.0,516.19 647.07,514.94 648.13,513.7 649.2,512.58 650.13,510.24 651.07,508.25 652.0,506.27 652.87,503.67 653.73,501.06 654.6,498.24 655.47,495.87 656.33,493.47 657.2,491.76 658.35,490.18 659.5,489.37 660.37,490.65 661.23,490.94 662.1,490.98 663.2,491.9 664.3,492.54 665.4,493.42 666.33,495.59 667.27,497.72 668.2,500.33 669.2,502.48 670.2,504.34 671.2,506.37 672.33,507.96 673.47,510.29 674.6,512.34 675.52,512.58 676.45,514.17 677.38,515.24 678.3,516.27 679.37,516.68 680.43,518.36 681.5,519.07 682.6,518.7 683.7,518.75 684.8,518.46 685.88,518.81 686.95,519.32 688.02,519.65 689.1,519.77 690.17,519.35 691.25,520.2 692.33,520.31 693.4,520.37 694.48,519.96 695.55,519.19 696.62,519.22 697.7,518.97 698.77,519.05 699.83,518.45 700.9,517.56 701.95,518.6 703.0,518.3"/>
<polyline class="c" stroke="#ff8000" points="69.3,616.22 70.2,616.14 71.1,616.81 72.17,616.18 73.23,615.82 74.3,616.22 75.37,616.79 76.43,616.21 77.5,615.78 78.6,615.67 79.7,617.1 80.8,617.5 81.85,616.86 82.9,616.29 84.0,617.22 85.1,619.24 86.2,619.79 87.13,620.45 88.07,621.14 89.0,620.75 89.87,619.32 90.73,618.26 91.6,616.82 92.65,616.29 93.7,615.58 94.8,614.66 95.9,616.09 97.0,616.71 98.08,616.56 99.15,616.12 100.22,616.8 101.3,616.26 102.38,617.78 103.45,617.66 104.52,617.09 105.6,616.64 106.67,617.41 107.75,616.48 108.83,616.71 109.9,616.33 110.97,615.22 112.03,614.55 113.1,614.38 114.2,614.63 115.3,614.69 116.17,613.85 117.03,613.66 117.9,611.18 118.83,611.78 119.77,613.43 120.7,613.4 121.78,614.34 122.85,614.7 123.92,614.94 125.0,616.6 126.08,615.43 127.15,616.09 128.23,615.99 129.3,617.04 130.37,615.66 131.43,615.07 132.5,615.04 133.57,614.45 134.65,615.06 135.73,615.85 136.8,614.58 137.9,614.51 139.0,614.81 140.1,615.78 141.2,615.51 142.27,613.73 143.33,612.8 144.4,611.42 145.47,610.49 146.53,608.31 147.6,608.06 148.7,606.78 149.8,605.25 150.9,603.22 151.95,602.53 153.0,599.73 154.1,600.09 155.2,601.17 156.3,600.7 157.37,598.97 158.43,598.86 159.5,597.22 160.43,597.91 161.37,597.29 162.3,597.44 163.17,599.0 164.03,599.55 164.9,601.09 165.97,601.9 167.03,600.53 168.1,599.72 169.17,599.08 170.23,598.61 171.3,599.01 172.4,597.75 173.5,597.12 174.6,596.27 175.47,597.33 176.33,595.8 177.2,594.87 178.35,596.46 179.5,598.3 180.6,601.75 181.7,605.92 182.57,607.1 183.43,609.04 184.3,611.98 185.17,612.78 186.03,615.36 186.9,615.02 187.83,615.25 188.77,615.19 189.7,614.04 190.77,614.34 191.83,612.69 192.9,611.54 193.97,611.96 195.05,611.42 196.12,612.23 197.2,612.05 198.3,613.03 199.4,612.76 200.5,612.0 201.43,610.22 202.37,609.69 203.3,608.74 204.3,608.17 205.3,607.72 206.3,608.37 207.23,608.16 208.17,609.09 209.1,611.77 210.17,612.18 211.23,614.02 212.3,614.03 213.38,615.02 214.45,614.68 215.53,615.02 216.6,615.04 217.68,614.49 218.75,613.67 219.82,613.78 220.9,614.87 222.0,615.15 223.1,615.43 224.2,614.61 225.13,614.45 226.07,613.97 227.0,612.96 228.0,613.77 229.0,613.75 230.0,614.48 231.07,614.67 232.13,614.05 233.2,615.36 234.3,614.79 235.4,612.57 236.5,613.55 237.57,613.11 238.65,612.15 239.73,610.61 240.8,611.72 241.88,610.05 242.95,611.29 244.03,610.48 245.1,609.11 246.17,608.07 247.23,607.68 248.3,606.32 249.4,605.71 250.5,605.1 251.6,602.89 252.67,602.31 253.73,603.76 254.8,601.92 255.87,603.11 256.93,601.38 258.0,602.26 259.1,603.01 260.2,603.98 261.3,604.19 262.37,605.65 263.43,605.3 264.5,607.01 265.57,606.03 266.63,606.67 267.7,606.09 268.8,606.95 269.9,608.45 270.97,607.68 272.03,607.83 273.1,608.97 274.2,608.41 275.3,608.72 276.4,607.89 277.33,605.62 278.27,604.59 279.2,603.88 280.07,602.94 280.93,601.52 281.8,602.51 282.87,602.99 283.93,602.15 285.0,603.48 286.07,602.69 287.13,602.92 288.2,601.56 289.27,601.52 290.35,602.08 291.43,603.04 292.5,601.57 293.57,601.36 294.65,602.02 295.73,602.24 296.8,601.32 297.9,601.68 299.0,602.94 300.1,603.3 301.17,601.52 302.23,602.49 303.3,600.75 304.37,601.64 305.43,603.31 306.5,603.26 307.6,604.11 308.7,603.15 309.8,604.6 310.9,603.52 311.97,603.02 313.05,603.19 314.12,602.46 315.2,602.38 316.27,603.03 317.33,602.68 318.4,601.41 319.47,602.13 320.53,602.71 321.6,602.78 322.7,603.62 323.8,603.64 324.9,603.34 325.97,603.78 327.03,604.99 328.1,604.24 329.17,604.25 330.23,603.91 331.3,602.53 332.4,602.48 333.5,602.23 334.6,601.56 335.45,600.49 336.3,597.54 337.4,600.19 338.5,600.95 339.37,602.66 340.23,603.22 341.1,603.6 342.17,603.1 343.23,602.35 344.3,603.29 345.37,602.39 346.43,602.76 347.5,601.64 348.6,602.42 349.7,603.39 350.8,605.46 352.05,604.97 353.3,606.92 354.23,604.84 355.17,604.07 356.1,602.53 357.2,602.15 358.3,600.33 359.4,600.02 360.47,600.71 361.55,599.07 362.62,599.65 363.7,598.79 364.77,598.47 365.85,597.69 366.93,597.41 368.0,598.81 369.07,598.83 370.13,599.01 371.2,599.25 372.3,598.95 373.4,596.95 374.5,597.15 375.57,596.62 376.63,596.4 377.7,596.69 378.77,596.94 379.83,597.88 380.9,596.91 382.0,597.67 383.1,597.52 384.2,597.44 385.27,597.55 386.33,598.26 387.4,597.65 388.27,599.44 389.13,599.16 390.0,600.18 391.07,601.31 392.13,601.57 393.2,601.46 394.3,601.65 395.4,602.15 396.5,603.03 397.57,603.19 398.63,602.52 399.7,601.12 400.77,601.62 401.83,602.87 402.9,602.41 404.0,602.87 405.1,602.39 406.2,602.93 407.27,603.25 408.35,603.2 409.43,602.73 410.5,601.96 411.57,602.79 412.65,601.97 413.73,600.91 414.8,600.52 415.87,601.59 416.93,601.04 418.0,600.36 418.98,599.51 419.95,598.71 420.92,598.04 421.9,598.06 422.82,598.37 423.75,600.02 424.68,600.33 425.6,600.5 426.67,599.8 427.73,600.4 428.8,600.94 429.67,602.84 430.53,602.16 431.4,604.02 432.33,602.53 433.27,600.98 434.2,600.43 435.27,599.31 436.33,599.91 437.4,599.38 438.5,599.51 439.6,599.62 440.7,600.37 441.77,600.39 442.83,600.64 443.9,602.69 444.88,601.85 445.85,603.35 446.82,603.44 447.8,603.92 448.67,602.48 449.53,601.71 450.4,600.28 451.27,598.93 452.13,597.57 453.0,596.75 453.93,596.44 454.87,595.76 455.8,595.3 456.73,594.31 457.67,595.19 458.6,594.17 459.47,592.36 460.33,591.47 461.2,591.67 462.27,589.69 463.33,589.07 464.4,588.73 465.47,588.12 466.53,586.22 467.6,585.4 468.47,584.36 469.33,582.55 470.2,582.98 471.3,577.68 472.4,575.63 473.45,570.42 474.5,566.68 475.6,567.03 476.7,566.08 477.75,565.92 478.8,567.4 479.73,568.69 480.67,570.56 481.6,571.03 482.7,574.89 483.8,577.89 484.9,580.57 486.0,584.16 486.93,585.99 487.87,586.78 488.8,589.43 489.85,590.7 490.9,591.56 491.77,590.39 492.63,591.01 493.5,591.24 494.57,589.95 495.63,590.36 496.7,590.61 497.8,589.85 498.9,588.6 500.0,589.44 500.87,589.69 501.73,591.71 502.6,592.29 503.53,592.02 504.47,593.45 505.4,593.33 506.33,593.54 507.27,595.17 508.2,596.0 509.1,596.66 510.0,597.29 510.9,597.54 511.8,598.26 512.88,598.41 513.95,598.6 515.02,599.75 516.1,598.94 517.2,598.01 518.3,598.72 519.4,597.9 520.47,597.48 521.53,597.08 522.6,595.95 523.53,595.63 524.47,595.16 525.4,596.21 526.27,597.37 527.13,597.92 528.0,597.81 529.07,599.73 530.13,599.82 531.2,599.62 532.3,598.57 533.4,599.95 534.5,599.42 535.57,599.92 536.63,599.33 537.7,601.12 538.77,599.13 539.83,599.19 540.9,597.86 542.0,598.05 543.1,598.8 544.2,598.35 545.27,597.74 546.33,596.07 547.4,595.5 548.27,595.76 549.13,594.59 550.0,595.14 551.07,596.85 552.13,597.16 553.2,598.05 554.3,596.47 555.4,596.61 556.5,596.22 557.57,595.93 558.63,595.32 559.7,594.71 560.8,593.33 561.9,593.8 562.95,592.58 564.0,590.1 565.1,592.06 566.2,592.53 567.27,592.36 568.33,592.18 569.4,590.68 570.47,590.48 571.53,589.09 572.6,588.82 573.7,585.8 574.8,584.07 575.67,582.68 576.53,582.38 577.4,579.54 578.6,583.36 579.8,584.86 581.05,589.18 582.3,590.4 583.17,592.07 584.03,594.08 584.9,597.18 585.83,596.7 586.77,597.1 587.7,596.4 588.8,596.04 589.9,596.78 591.0,597.32 592.05,597.78 593.1,595.8 593.97,596.87 594.83,598.88 595.7,598.51 596.63,599.12 597.57,596.97 598.5,596.52 599.6,597.74 600.7,599.23 601.63,597.04 602.57,597.72 603.5,595.82 604.5,597.29 605.5,596.55 606.5,598.38 607.48,597.2 608.45,597.12 609.42,596.69 610.4,597.08 611.38,597.22 612.35,598.52 613.32,597.97 614.3,597.66 615.3,599.72 616.3,599.18 617.3,600.19 618.23,600.79 619.17,600.05 620.1,598.83 621.17,598.66 622.23,596.3 623.3,597.13 624.37,597.47 625.43,598.1 626.5,599.12 627.6,597.29 628.7,596.96 629.8,596.35 630.87,596.4 631.93,595.95 633.0,595.37 634.1,595.19 635.2,596.01 636.3,596.31 637.38,596.17 638.45,594.87 639.52,595.08 640.6,595.19 641.67,595.46 642.73,596.3 643.8,595.85 644.87,595.52 645.93,593.92 647.0,592.85 648.1,592.41 649.2,591.77 650.3,589.34 651.37,587.83 652.43,587.17 653.5,583.98 654.57,581.85 655.63,580.34 656.7,579.69 657.63,578.58 658.57,578.02 659.5,576.3 660.37,576.64 661.23,578.28 662.1,580.19 662.97,578.87 663.83,577.68 664.7,577.38 665.8,579.88 666.9,582.04 667.83,584.24 668.77,585.71 669.7,587.55 670.63,590.11 671.57,591.22 672.5,591.85 673.37,591.54 674.23,592.1 675.1,592.8 676.17,594.14 677.23,594.13 678.3,595.75 679.37,595.45 680.43,595.33 681.5,596.61 682.6,596.35 683.7,596.11 684.8,596.1 685.87,594.47 686.93,594.85 688.0,595.14 689.07,594.55 690.13,594.98 691.2,595.83 692.3,596.21 693.4,596.68 694.5,596.67 695.57,597.18 696.63,596.27 697.7,596.52 698.77,596.62 699.83,595.88 700.9,596.13 701.95,596.24 703.0,595.6"/>
</g>
<polygon fill="#000" points="167.9,666.4 172.9,666.4 172.9,679.6 171.5,681.7 169.3,681.7 167.9,679.6"/>
<text transform="translate(170.5,714.0) scale(1,1.075)" font-size="33.6" text-anchor="middle">1000</text>
<polygon fill="#000" points="300.79,666.4 305.79,666.4 305.79,679.6 304.39000000000004,681.7 302.19,681.7 300.79,679.6"/>
<text transform="translate(303.4,714.0) scale(1,1.075)" font-size="33.6" text-anchor="middle">1200</text>
<polygon fill="#000" points="433.68,666.4 438.68,666.4 438.68,679.6 437.28000000000003,681.7 435.08,681.7 433.68,679.6"/>
<text transform="translate(436.3,714.0) scale(1,1.075)" font-size="33.6" text-anchor="middle">1400</text>
<polygon fill="#000" points="566.56,666.4 571.56,666.4 571.56,679.6 570.16,681.7 567.9599999999999,681.7 566.56,679.6"/>
<text transform="translate(569.2,714.0) scale(1,1.075)" font-size="33.6" text-anchor="middle">1600</text>
<polygon fill="#000" points="699.45,666.4 704.45,666.4 704.45,679.6 703.0500000000001,681.7 700.85,681.7 699.45,679.6"/>
<text transform="translate(702.1,714.0) scale(1,1.075)" font-size="33.6" text-anchor="middle">1800</text>
<text transform="translate(198.9,771) scale(1,1.025)" font-size="42.4" text-anchor="start">Raman shift</text>
<text transform="translate(456.0,771.3) scale(1,1.17)" font-size="42.4" text-anchor="start">(</text>
<text transform="translate(471.4,771) scale(1,1.0)" font-size="42.4" text-anchor="start">cm</text>
<text transform="translate(533.2,748.3) scale(1,1.04)" font-size="24.8" text-anchor="start">-1</text>
<text transform="translate(557.0,771.3) scale(1,1.17)" font-size="42.4" text-anchor="start">)</text>
<text transform="translate(33.5,480) rotate(-90) scale(1,1.01)" font-size="43.7" text-anchor="start">Intensity (a.u.)</text>
<text transform="translate(314,188.8) scale(1,1.02)" font-size="28.2" text-anchor="start" letter-spacing="1.95">Blank</text>
<text transform="translate(316.8,298.3) scale(1,1.02)" font-size="28.2" text-anchor="start" letter-spacing="1.95">Cola</text>
<text transform="translate(281.2,400.3) scale(1,0.99)" font-size="28.2" text-anchor="start">Citric acid</text>
<text transform="translate(218.8,491.2) scale(1,1.0)" font-size="27.87" text-anchor="start">Phosphoric acid</text>
<text transform="translate(310.4,578.3) scale(1,1.02)" font-size="28.8" text-anchor="start">Sugar</text>
<text transform="translate(188.3,146.2) rotate(-90) scale(1,1.064)" font-size="32.3" text-anchor="start">1012</text>
<text transform="translate(513.85,128.6) rotate(-90) scale(1,1.064)" font-size="32.3" text-anchor="start">1495</text>
<text transform="translate(461.5,295.4) rotate(-90) scale(1,1.064)" font-size="32.3" text-anchor="start">1431</text>
</svg></body></html>
